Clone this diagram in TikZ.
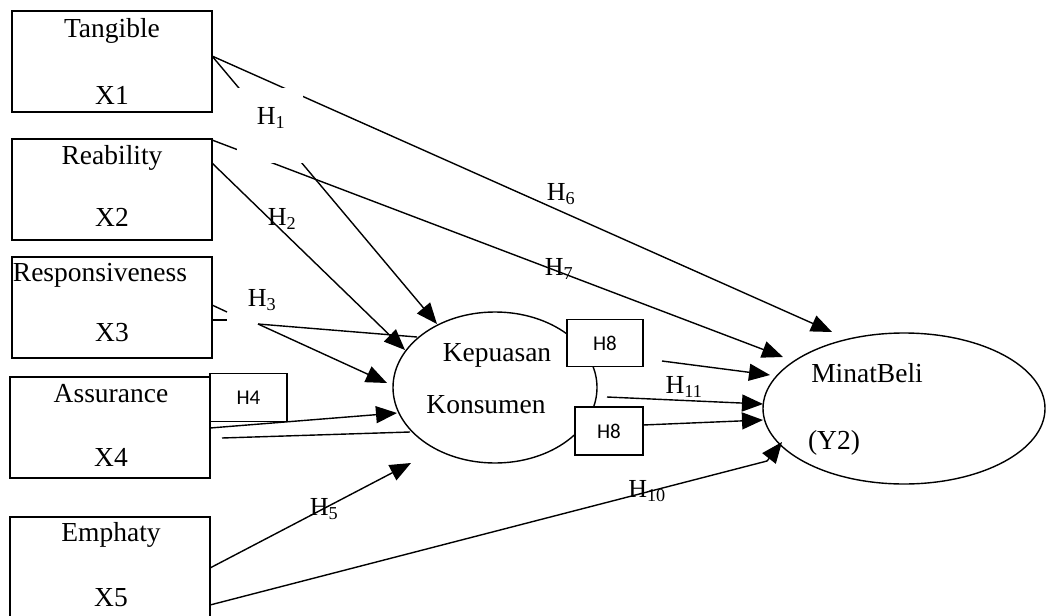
\documentclass[tikz,border=0pt]{standalone}
\usepackage{fontspec}
\setmainfont{Liberation Serif}
\newfontfamily\hfont{Carlito}
\usetikzlibrary{arrows.meta,shapes.geometric}
\begin{document}
\begin{tikzpicture}[x=1pt,y=-1pt,
  line width=1.4pt,
  box/.style={draw, rectangle, minimum width=200pt, minimum height=101pt, inner sep=0pt},
  txt/.style={inner sep=0pt, font=\fontsize{27.5}{30}\selectfont},
  hl/.style={inner sep=0pt, font=\fontsize{26}{30}\selectfont},
  hbox/.style={draw, fill=white, rectangle, inner sep=0pt, font=\hfont\fontsize{21}{24}\selectfont},
  cover/.style={fill=white, inner sep=0pt},
  arr/.style={-{Triangle[length=21pt,width=17pt]}},
  ell/.style={draw, ellipse, inner sep=0pt}]
\useasboundingbox (0,0) rectangle (1048,615);

% left boxes
\node[box] (tang) at (112,61.5) {};
\node[box] (reab) at (112,189.5) {};
\node[box] (resp) at (112,307.5) {};
\node[box] (assu) at (110,427.5) {};
\node[box, minimum height=120pt] (emph) at (110,577) {};

\node[txt] (t1) at (112,31) {Tangible};
\node[txt] (t1x) at (112,95) {X1};
\node[txt] (t2) at (112,158) {Reability};
\node[txt] (t2x) at (112,217) {X2};
\node[txt] (t3) at (100,275) {Responsiveness};
\node[txt] (t3x) at (112,333) {X3};
\node[txt] (t4) at (111,394) {Assurance};
\node[txt] (t4x) at (111,457) {X4};
\node[txt] (t5) at (111,535) {Emphaty};
\node[txt] (t5x) at (111,598) {X5};

% ellipses
\node[ell, minimum width=204pt, minimum height=151pt] (kep) at (495,387.5) {};
\node[ell, minimum width=282pt, minimum height=151pt] (minat) at (904,408.5) {};
\node[txt] (k1) at (497,355) {Kepuasan};
\node[txt] (k2) at (486,405) {Konsumen};
\node[txt] (m1) at (867,373) {MinatBeli};
\node[txt] (m2) at (834,443) {(Y2)};

% anchor coordinates
\coordinate (ts) at (212,56);
\coordinate (rs1) at (212,140);
\coordinate (rs2) at (212,163);
\coordinate (p3a) at (212,305);
\coordinate (p3b) at (212,320);
\coordinate (p3ae) at (227,312);
\coordinate (p3be) at (227,320);
\coordinate (h3s) at (258,324);
\coordinate (a4s) at (210,428);
\coordinate (a4b) at (222,438);
\coordinate (e5a) at (210,568);
\coordinate (e5b) at (210,605);
\coordinate (h10b) at (767,461);
\coordinate (h8as) at (662,361);
\coordinate (h11s) at (607,397);
\coordinate (h8bs) at (643,425);

\coordinate (h1tip) at (437,324);
\coordinate (h2tip) at (405,350);
\coordinate (h3end) at (417,337);
\coordinate (h3tip) at (387,383);
\coordinate (h4tip) at (397,413);
\coordinate (k4end) at (410,432);
\coordinate (h5tip) at (411,463);
\coordinate (h6tip) at (832,332);
\coordinate (h7tip) at (783,357);
\coordinate (h8atip) at (770,375);
\coordinate (h11tip) at (763,404);
\coordinate (h8btip) at (763,420);
\coordinate (h10tip) at (782,442);

% connectors
\draw[arr] (ts) -- (h1tip);
\draw[arr] (ts) -- (h6tip);
\draw[arr] (rs1) -- (h7tip);
\draw[arr] (rs2) -- (h2tip);
\draw (p3a) -- (p3ae);
\draw (p3b) -- (p3be);
\draw (h3s) -- (h3end);
\draw[arr] (h3s) -- (h3tip);
\draw[arr] (a4s) -- (h4tip);
\draw (a4b) -- (k4end);
\draw[arr] (e5a) -- (h5tip);
\draw[arr] (e5b) -- (h10b) -- (h10tip);
\draw[arr] (h8as) -- (h8atip);
\draw[arr] (h11s) -- (h11tip);
\draw[arr] (h8bs) -- (h8btip);

% label boxes
\node[cover, minimum width=66pt, minimum height=75pt] (h1box) at (270,125.5) {};
\node[hl] (h1) at (271,118) {H\textsubscript{1}};
\node[hl] (h2) at (282,219) {H\textsubscript{2}};
\node[hl] (h3) at (262,300) {H\textsubscript{3}};
\node[hl] (h5) at (324,509) {H\textsubscript{5}};
\node[hl] (h6) at (561,194) {H\textsubscript{6}};
\node[hl] (h7) at (559,269) {H\textsubscript{7}};
\node[hl] (h10) at (647,491) {H\textsubscript{10}};
\node[hl] (h11) at (684,387) {H\textsubscript{11}};

\node[hbox, minimum width=76pt, minimum height=47pt] (h8a) at (605,343) {H8};
\node[hbox, minimum width=68pt, minimum height=48pt] (h8b) at (609,431) {H8};
\node[hbox, minimum width=77pt, minimum height=48pt] (h4) at (248.5,397.5) {H4};
\end{tikzpicture}
\end{document}
